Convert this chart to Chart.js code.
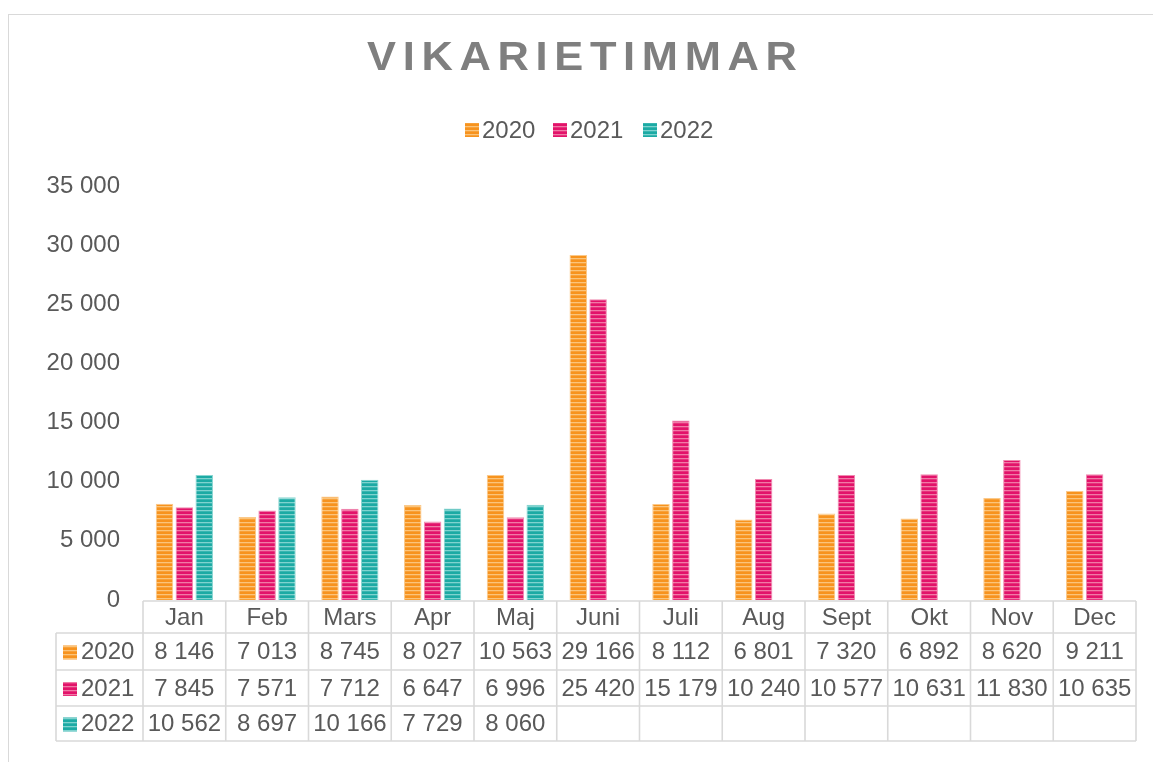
<!DOCTYPE html>
<html>
<head>
<meta charset="utf-8">
<script src="https://cdn.jsdelivr.net/npm/chart.js@4/dist/chart.umd.min.js"></script>
<style>
  html,body{margin:0;padding:0;background:#fff;}
  canvas{display:block;}
</style>
</head>
<body>
<canvas id="c" width="1153" height="762"></canvas>
<script>
const title = 'VIKARIETIMMAR';
const categories = ['Jan','Feb','Mars','Apr','Maj','Juni','Juli','Aug','Sept','Okt','Nov','Dec'];
const seriesNames = ['2020','2021','2022'];
const values2020 = [8146,7013,8745,8027,10563,29166,8112,6801,7320,6892,8620,9211];
const values2021 = [7845,7571,7712,6647,6996,25420,15179,10240,10577,10631,11830,10635];
const values2022 = [10562,8697,10166,7729,8060,null,null,null,null,null,null,null];
const yTicks = [0,5000,10000,15000,20000,25000,30000,35000];

const FONT = '"Liberation Sans", Arial, sans-serif';
const TEXT = '#595959';
const GRID = '#d9d9d9';

function fmt(n){ return n.toString().replace(/\B(?=(\d{3})+(?!\d))/g, ' '); }

function stripe(dark, light){
  const c = document.createElement('canvas');
  c.width = 4; c.height = 4;
  const x = c.getContext('2d');
  x.fillStyle = dark; x.fillRect(0,0,4,4);
  x.fillStyle = light; x.fillRect(0,2,4,1.3);
  return document.getElementById('c').getContext('2d').createPattern(c,'repeat');
}
const palette = [
  {dark:'#f7931e', light:'#fbc47a', border:'#fbc98a'},
  {dark:'#e2136a', light:'#f07aa6', border:'#f08ab0'},
  {dark:'#1caaa4', light:'#7fd3cf', border:'#8ad6d2'}
];
const patterns = palette.map(p => stripe(p.dark, p.light));
const allValues = [values2020, values2021, values2022];

const tablePlugin = {
  id: 'extras',
  afterDraw(chart){
    const ctx = chart.ctx;
    const xs = chart.scales.x;
    const area = chart.chartArea;
    ctx.save();
    ctx.strokeStyle = GRID; ctx.lineWidth = 1;
    ctx.strokeRect(8.5, 14.5, 1200, 800);

    // title
    ctx.save();
    ctx.fillStyle = '#7f7f7f';
    ctx.font = 'bold 41px ' + FONT;
    ctx.textBaseline = 'alphabetic';
    ctx.textAlign = 'left';
    const sx = 1.06, target = 430;
    const w0 = ctx.measureText(title).width;
    const sp = (target / sx - w0) / (title.length - 1);
    ctx.translate(582 - target/2, 70);
    ctx.scale(sx, 1);
    let cx = 0;
    for (const ch of title){
      ctx.fillText(ch, cx, 0);
      cx += ctx.measureText(ch).width + sp;
    }
    ctx.restore();

    // legend
    ctx.font = '24px ' + FONT;
    ctx.textBaseline = 'middle';
    ctx.textAlign = 'left';
    const legX = [465, 553, 643];
    seriesNames.forEach((s,i)=>{
      ctx.fillStyle = patterns[i];
      ctx.fillRect(legX[i], 123, 14, 14);
      ctx.fillStyle = TEXT;
      ctx.fillText(s, legX[i] + 17, 131);
    });

    // data table
    const n = categories.length;
    const colW = (area.right - area.left) / n;
    const left = area.left, right = area.right;
    const rowTop = [601, 633, 670, 706, 741];
    const labelLeft = 56;
    ctx.strokeStyle = GRID; ctx.lineWidth = 1.6;
    ctx.beginPath();
    ctx.moveTo(left, rowTop[0]); ctx.lineTo(right, rowTop[0]);
    for (let r = 1; r < rowTop.length; r++){
      ctx.moveTo(labelLeft, rowTop[r]); ctx.lineTo(right, rowTop[r]);
    }
    ctx.moveTo(labelLeft, rowTop[1]); ctx.lineTo(labelLeft, rowTop[4]);
    for (let i = 0; i <= n; i++){
      const x = left + i*colW;
      ctx.moveTo(x, rowTop[0]); ctx.lineTo(x, rowTop[4]);
    }
    ctx.stroke();

    ctx.fillStyle = TEXT;
    ctx.font = '24px ' + FONT;
    ctx.textAlign = 'center';
    ctx.textBaseline = 'middle';
    categories.forEach((c,i)=>{
      ctx.fillText(c, xs.getPixelForValue(i), (rowTop[0]+rowTop[1])/2 + 1);
    });
    allValues.forEach((vals, r)=>{
      const cy = (rowTop[r+1] + rowTop[r+2])/2 + 1;
      ctx.textAlign = 'left';
      ctx.fillStyle = patterns[r];
      ctx.fillRect(63, cy - 7, 14, 14);
      ctx.fillStyle = TEXT;
      ctx.fillText(seriesNames[r], 81, cy);
      ctx.textAlign = 'center';
      vals.forEach((v,i)=>{
        if (v !== null) ctx.fillText(fmt(v), xs.getPixelForValue(i), cy);
      });
    });
    ctx.restore();
  }
};

new Chart(document.getElementById('c'), {
  type: 'bar',
  data: {
    labels: categories,
    datasets: seriesNames.map((s,i)=>({
      label: s,
      data: allValues[i],
      backgroundColor: patterns[i],
      borderColor: palette[i].border,
      borderWidth: 1,
      barPercentage: 0.88,
      categoryPercentage: 0.72
    }))
  },
  options: {
    responsive: false,
    animation: false,
    layout: { padding: { top: 186, bottom: 162, left: 0, right: 17 } },
    plugins: { legend: { display: false }, title: { display: false }, tooltip: { enabled: false } },
    scales: {
      x: { display: false },
      y: {
        min: 0, max: 35000,
        afterBuildTicks(scale){ scale.ticks = yTicks.map(v => ({value: v})); },
        afterFit(scale){ scale.width = 143; },
        grid: { display: false },
        border: { display: false },
        ticks: {
          padding: 15,
          color: TEXT,
          font: { family: FONT, size: 24 },
          callback: v => fmt(v)
        }
      }
    }
  },
  plugins: [tablePlugin]
});
</script>
</body>
</html>
